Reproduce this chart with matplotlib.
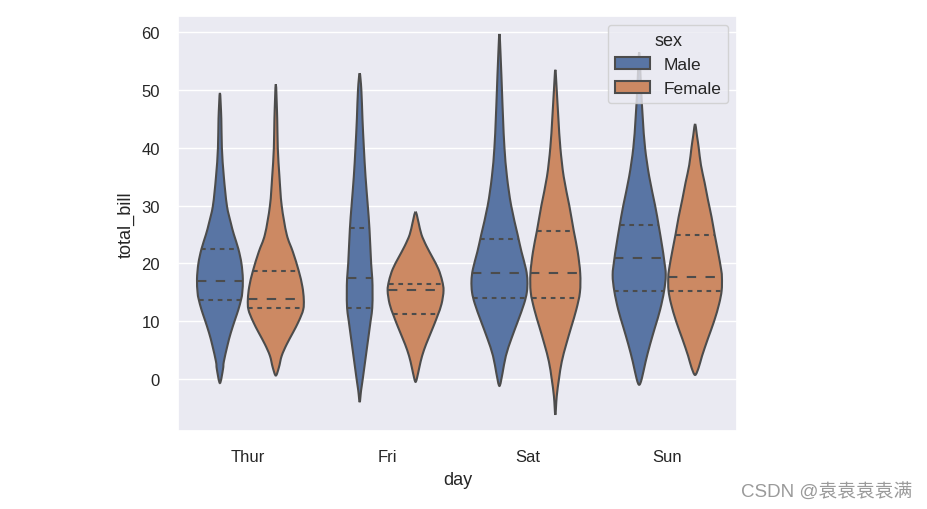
import matplotlib
matplotlib.use("Agg")
import matplotlib.pyplot as plt
from matplotlib.patches import Patch, PathPatch
from matplotlib.path import Path
import numpy as np
import seaborn as sns

sns.set_theme(style="darkgrid")
plt.rcParams['font.family'] = ['Liberation Sans', 'DejaVu Sans']

days = ["Thur", "Fri", "Sat", "Sun"]
sexes = ["Male", "Female"]

# violin outlines: total_bill levels and relative width (1 = widest)
thur_male_y = [49.5, 45, 40, 35, 30, 27, 25, 22.5, 20, 17.3, 15, 13.8, 12, 10.4, 8, 5.8, 3, 1.7, -0.7]
thur_male_w = [0, .05, .07, .14, .25, .39, .50, .66, .77, .82, .80, .76, .66, .55, .39, .27, .14, .11, 0]
thur_female_y = [51.0, 45, 40, 35, 30, 25, 22, 18.7, 16, 13.8, 12, 10, 8, 6, 4, 2, 0.6]
thur_female_w = [0, .05, .07, .13, .21, .39, .61, .82, .95, 1.0, .98, .82, .61, .39, .21, .11, 0]

fri_male_y = [52.9, 50, 45, 40, 35, 30, 26, 20, 17.4, 15, 12.3, 10, 5, 0, -2, -4.0]
fri_male_w = [0, .06, .10, .15, .21, .29, .35, .41, .45, .46, .45, .39, .25, .11, .05, 0]
fri_female_y = [28.9, 27, 25, 23, 21, 19, 17, 15.3, 13, 11, 9, 7, 5, 3, 1, -0.5]
fri_female_w = [0, .11, .21, .39, .61, .82, .95, 1.0, .93, .79, .63, .46, .30, .18, .09, 0]

sat_male_y = [59.7, 55, 50, 45, 40, 35, 30, 25, 22, 19, 17, 15, 13, 10, 7, 4, 1, -1.2]
sat_male_w = [0, .05, .09, .13, .18, .27, .42, .65, .79, .95, 1.0, .98, .88, .66, .43, .23, .11, 0]
sat_female_y = [53.5, 50, 45, 40, 35, 30, 25.6, 22, 18.3, 15, 12, 9, 6, 3, 0, -3, -6.2]
sat_female_w = [0, .05, .11, .18, .30, .50, .66, .80, .89, .88, .75, .57, .39, .23, .13, .05, 0]

sun_male_y = [56.5, 50, 45, 40, 35, 30, 26.5, 23, 20.7, 18, 15.2, 12, 9, 6, 3, 0, -1.0]
sun_male_w = [0, .07, .13, .21, .36, .57, .70, .82, .89, .95, .89, .75, .57, .39, .23, .09, 0]
sun_female_y = [44.1, 42, 40, 37, 34, 31, 28, 25, 22, 19, 17.5, 15.3, 13, 10, 7, 4, 2, 0.7]
sun_female_w = [0, .07, .13, .21, .34, .46, .59, .70, .82, .93, .96, .95, .86, .68, .46, .25, .13, 0]

# quartiles (q1, median, q3)
thur_male_q = [13.7, 17.0, 22.5]
thur_female_q = [12.2, 13.8, 18.7]
fri_male_q = [12.3, 17.4, 26.2]
fri_female_q = [11.3, 15.4, 16.4]
sat_male_q = [14.1, 18.3, 24.2]
sat_female_q = [14.1, 18.3, 25.6]
sun_male_q = [15.3, 20.9, 26.6]
sun_female_q = [15.3, 17.6, 25.0]

violins = [
    [(thur_male_y, thur_male_w, thur_male_q), (thur_female_y, thur_female_w, thur_female_q)],
    [(fri_male_y, fri_male_w, fri_male_q), (fri_female_y, fri_female_w, fri_female_q)],
    [(sat_male_y, sat_male_w, sat_male_q), (sat_female_y, sat_female_w, sat_female_q)],
    [(sun_male_y, sun_male_w, sun_male_q), (sun_female_y, sun_female_w, sun_female_q)],
]

colors = ["#5975a4", "#cc8963"]
gray = "#4c4c4c"
lw = 1.5
half = 0.2


def smooth_outline(pts):
    # closed curve through the outline points (Catmull-Rom drawn as bezier pieces)
    n = len(pts)
    verts = [pts[0]]
    codes = [Path.MOVETO]
    for i in range(n):
        p0, p1, p2, p3 = pts[i - 1], pts[i], pts[(i + 1) % n], pts[(i + 2) % n]
        verts += [p1 + (p2 - p0) / 6, p2 - (p3 - p1) / 6, p2]
        codes += [Path.CURVE4] * 3
    return Path(np.array(verts), codes)


fig = plt.figure(figsize=(9.28, 5.10), dpi=100)
ax = fig.add_axes([0.1918, 0.1529, 0.6024, 0.8137])

for i, pair in enumerate(violins):
    for j, (vy, vw, vq) in enumerate(pair):
        c = i + (j - 0.5) * 0.4
        vy = np.array(vy)
        vw = np.array(vw) * half
        right = np.column_stack([c + vw, vy])
        left = np.column_stack([c - vw[1:-1], vy[1:-1]])[::-1]
        pts = np.vstack([right, left])
        ax.add_patch(PathPatch(smooth_outline(pts), facecolor=colors[j], edgecolor=gray,
                               linewidth=lw, zorder=2))
        order = np.argsort(vy)
        for k, q in enumerate(vq):
            w = np.interp(q, vy[order], vw[order])
            d = lw * 3 if k == 1 else lw * 1.5
            ax.plot([c - w, c + w], [q, q], color=gray, linewidth=lw,
                    dashes=[d, d], zorder=3)

ax.set_xlim(-0.5, 3.5)
ax.set_ylim(-9.0, 62.8)
ax.set_xticks(range(len(days)))
ax.set_xticklabels(days)
ax.set_yticks([0, 10, 20, 30, 40, 50, 60])
ax.tick_params(labelsize=12, pad=7)
ax.grid(axis="x", visible=False)
ax.set_xlabel("day", fontsize=13, labelpad=5)
ax.set_ylabel("total_bill", fontsize=13, labelpad=5)

handles = [Patch(facecolor=colors[j], edgecolor=gray, linewidth=lw, label=s)
           for j, s in enumerate(sexes)]
ax.legend(handles=handles, title="sex", loc="upper right", fontsize=12.5,
          title_fontsize=13)

fig.text(0.983, 0.035, "CSDN @袁袁袁袁满", ha="right", va="center", fontsize=13.5,
         color="#9a9a9a", family=['Liberation Sans', 'Noto Sans CJK SC'])

fig.savefig("out.png", dpi=100)
